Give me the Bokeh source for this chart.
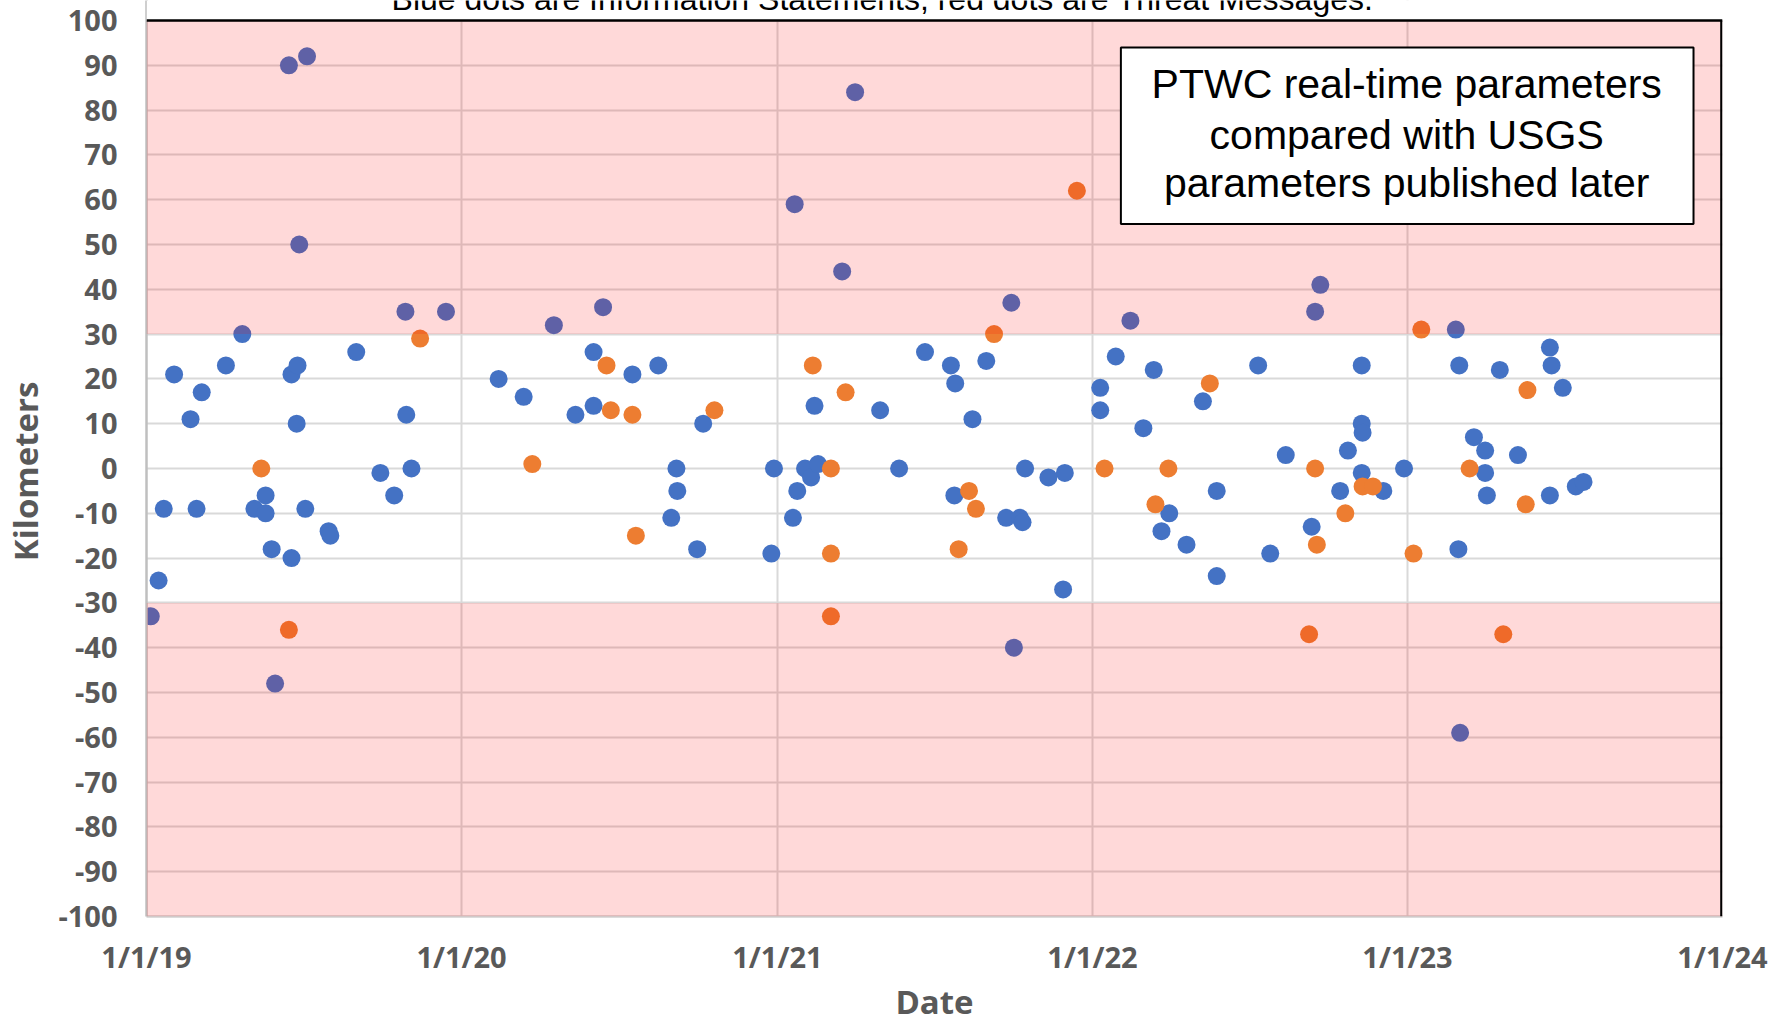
import pandas as pd
from bokeh.plotting import figure
from bokeh.models import (FixedTicker, BoxAnnotation, Span, Label, Range1d,
                          CustomJSTickFormatter, ColumnDataSource)
from bokeh.embed import file_html
from bokeh.resources import INLINE

# ---------------- data ----------------
info_dates = [
    "2019-01-06", "2019-01-15", "2019-01-21", "2019-02-02", "2019-02-21", "2019-02-28",
    "2019-03-06", "2019-04-03", "2019-04-22", "2019-05-06", "2019-05-19", "2019-05-19",
    "2019-05-26", "2019-05-30", "2019-06-15", "2019-06-18", "2019-06-18", "2019-06-24",
    "2019-06-25", "2019-06-27", "2019-07-04", "2019-07-06", "2019-07-31", "2019-08-02",
    "2019-09-01", "2019-09-29", "2019-10-15", "2019-10-28", "2019-10-29", "2019-11-04",
    "2019-12-14",
    "2020-02-13", "2020-03-13", "2020-04-17", "2020-05-12", "2020-06-02", "2020-06-02",
    "2020-06-13", "2020-07-17", "2020-08-16", "2020-08-31", "2020-09-06", "2020-09-07",
    "2020-09-30", "2020-10-07", "2020-12-25", "2020-12-28",
    "2021-01-19", "2021-01-21", "2021-01-24", "2021-02-02", "2021-02-09", "2021-02-13",
    "2021-02-17", "2021-03-17", "2021-04-01", "2021-04-30", "2021-05-22", "2021-06-21",
    "2021-07-21", "2021-07-25", "2021-07-26", "2021-08-15", "2021-08-31", "2021-09-23",
    "2021-09-29", "2021-10-02", "2021-10-09", "2021-10-12", "2021-10-15", "2021-11-11",
    "2021-11-28", "2021-11-30",
    "2022-01-10", "2022-01-10", "2022-01-28", "2022-02-14", "2022-03-01", "2022-03-13",
    "2022-03-22", "2022-03-31", "2022-04-20", "2022-05-09", "2022-05-25", "2022-05-25",
    "2022-07-12", "2022-07-26", "2022-08-13", "2022-09-12", "2022-09-16", "2022-09-22",
    "2022-10-15", "2022-10-24", "2022-11-09", "2022-11-09", "2022-11-10", "2022-11-09",
    "2022-12-04", "2022-12-28",
    "2023-02-26", "2023-03-01", "2023-03-02", "2023-03-03", "2023-03-19", "2023-04-01",
    "2023-04-01", "2023-04-03", "2023-04-18", "2023-05-09", "2023-06-15", "2023-06-15",
    "2023-06-17", "2023-06-30", "2023-07-15", "2023-07-24",
]
info_km = [
    -33, -25, -9, 21, 11, -9,
    17, 23, 30, -9, -6, -10,
    -18, -48, 90, 21, -20, 10,
    23, 50, -9, 92, -14, -15,
    26, -1, -6, 35, 12, 0,
    35,
    20, 16, 32, 12, 26, 14,
    36, 21, 23, -11, 0, -5,
    -18, 10, -19, 0,
    -11, 59, -5, 0, -2, 14,
    1, 44, 84, 13, 0, 26,
    23, -6, 19, 11, 24, -11,
    37, -40, -11, -12, 0, -2,
    -27, -1,
    18, 13, 25, 33, 9, 22,
    -14, -10, -17, 15, -5, -24,
    23, -19, 3, -13, 35, 41,
    -5, 4, 23, 10, 8, -1,
    -5, 0,
    31, -18, 23, -59, 7, 4,
    -1, -6, 22, 3, -6, 27,
    23, 18, -4, -3,
]

threat_dates = [
    "2019-05-14", "2019-06-15", "2019-11-14",
    "2020-03-23", "2020-06-17", "2020-06-22", "2020-07-17", "2020-07-21", "2020-10-20",
    "2021-02-11", "2021-03-04", "2021-03-04", "2021-03-04", "2021-03-21", "2021-07-30",
    "2021-08-11", "2021-08-19", "2021-09-09", "2021-12-14",
    "2022-01-15", "2022-03-15", "2022-03-30", "2022-05-17", "2022-09-09", "2022-09-16",
    "2022-09-18", "2022-10-21", "2022-11-10", "2022-11-22",
    "2023-01-08", "2023-01-17", "2023-03-14", "2023-04-22", "2023-05-18", "2023-05-20",
]
threat_km = [
    0, -36, 29,
    1, 23, 13, 12, -15, 13,
    23, 0, -19, -33, 17, -18,
    -5, -9, 30, 62,
    0, -8, 0, 19, -37, 0,
    -17, -10, -4, -4,
    -19, 31, 0, -37, -8, 17.5,
]

x_tick_dates = ["2019-01-01", "2020-01-01", "2021-01-01", "2022-01-01", "2023-01-01", "2024-01-01"]
x_tick_labels = ["1/1/19", "1/1/20", "1/1/21", "1/1/22", "1/1/23", "1/1/24"]
y_ticks = [-100, -90, -80, -70, -60, -50, -40, -30, -20, -10, 0,
           10, 20, 30, 40, 50, 60, 70, 80, 90, 100]
y_tick_labels = ["-100", "-90", "-80", "-70", "-60", "-50", "-40", "-30", "-20", "-10", "0",
                 "10", "20", "30", "40", "50", "60", "70", "80", "90", "100"]
alert_low, alert_high = -30, 30

title_text = "Blue dots are Information Statements, red dots are Threat Messages."
box_lines = ["PTWC real-time parameters", "compared with USGS", "parameters published later"]
x_title = "Date"
y_title = "Kilometers"


def to_ms(dates):
    return [int(pd.Timestamp(d).value // 10**6) for d in dates]


x_ticks_ms = to_ms(x_tick_dates)
X0, X1 = x_ticks_ms[0], x_ticks_ms[-1]

# ---------------- layout (page pixels) ----------------
W, H = 1788, 1026
FL, FR, FT, FB = 145, 1722, 20, 916      # plot-area edges
Y_TOP = 100 + FT * 200 / (FB - FT)       # frame reaches the canvas top (white strip above 100)


def px_x(px):
    return X0 + (px - FL) / (FR - FL) * (X1 - X0)


def px_y(py):
    return 100 - (py - FT) / (FB - FT) * 200


p = figure(width=W, height=H, output_backend="svg", toolbar_location=None,
           x_range=Range1d(X0, X1), y_range=Range1d(-100, Y_TOP),
           min_border_left=FL, min_border_right=W - FR,
           min_border_top=0, min_border_bottom=H - FB)
p.styles = {"position": "absolute", "left": "0px", "top": "0px"}
p.outline_line_color = None
p.background_fill_color = "white"
p.border_fill_color = "white"

# axes
p.xaxis.ticker = FixedTicker(ticks=x_ticks_ms)
p.xaxis.formatter = CustomJSTickFormatter(
    args=dict(tick_values=x_ticks_ms, tick_texts=x_tick_labels),
    code="const i = tick_values.indexOf(tick); return i >= 0 ? tick_texts[i] : '';")
p.yaxis.ticker = FixedTicker(ticks=y_ticks)
p.yaxis.formatter = CustomJSTickFormatter(
    args=dict(tick_values=y_ticks, tick_texts=y_tick_labels),
    code="const i = tick_values.indexOf(tick); return i >= 0 ? tick_texts[i] : '';")

for ax in (p.xaxis[0], p.yaxis[0]):
    ax.major_tick_line_color = None
    ax.minor_tick_line_color = None
    ax.major_tick_out = 0
    ax.major_tick_in = 0
    ax.major_label_text_font = "Open Sans"
    ax.major_label_text_font_style = "bold"
    ax.major_label_text_font_size = "29px"
    ax.major_label_text_color = "#595959"
    ax.axis_label_text_font = "Open Sans"
    ax.axis_label_text_font_style = "bold"
    ax.axis_label_text_font_size = "33px"
    ax.axis_label_text_color = "#595959"

# trailing spaces re-centre the rotated title on the plot area (frame starts at canvas top)
p.yaxis.axis_label = y_title + "   "
p.yaxis.axis_label_standoff = 7
p.yaxis.axis_line_color = "#bfbfbf"
p.yaxis.axis_line_width = 2.5
p.yaxis.major_label_standoff = 29

p.xaxis.axis_label = x_title
p.xaxis.axis_label_standoff = 0
p.xaxis.axis_line_color = "#d0d0d0"
p.xaxis.axis_line_width = 2.5
p.xaxis.major_label_standoff = 20

p.xgrid.grid_line_color = "#d9d9d9"
p.ygrid.grid_line_color = "#d9d9d9"
p.xgrid.grid_line_width = 2
p.ygrid.grid_line_width = 2

# dots
src_info = ColumnDataSource(dict(x=to_ms(info_dates), y=info_km))
src_threat = ColumnDataSource(dict(x=to_ms(threat_dates), y=threat_km))
p.scatter("x", "y", source=src_info, size=18, fill_color="#4472C4", line_color=None)
p.scatter("x", "y", source=src_threat, size=18, fill_color="#ED7D31", line_color=None)

# translucent red bands beyond +/-30 km
p.add_layout(BoxAnnotation(bottom=alert_high, top=100, fill_color="#ff0000", fill_alpha=0.15,
                           line_alpha=0))
p.add_layout(BoxAnnotation(top=alert_low, bottom=-100, fill_color="#ff0000", fill_alpha=0.15,
                           line_alpha=0))
# white strip above the plot area
p.add_layout(BoxAnnotation(bottom=100, fill_color="white", fill_alpha=1.0, line_alpha=0))

# top / right border lines of the plot area
p.add_layout(Span(location=100, dimension="width", line_color="black", line_width=2.5))
p.add_layout(BoxAnnotation(left=px_x(FR - 2.3), right=X1, bottom=-100, top=100,
                           fill_color="black", fill_alpha=1.0, line_alpha=0))

# annotation box
p.add_layout(BoxAnnotation(left=px_x(1120), right=px_x(1693), top=px_y(47), bottom=px_y(223.5),
                           fill_color="white", fill_alpha=1.0,
                           line_color="black", line_width=2, line_alpha=1.0))
for line, mid in zip(box_lines, [83.5, 134.1, 182.5]):
    p.add_layout(Label(x=px_x(1406), y=px_y(mid), text=line, text_align="center",
                       text_baseline="middle", text_font="Liberation Sans",
                       text_font_size="41px", text_color="black"))

# title (cut off at the top edge, as in the original picture)
p.add_layout(Label(x=px_x(881.5), y=px_y(-1.6), text=title_text, text_align="center",
                   text_baseline="middle", text_font="Liberation Sans",
                   text_font_size="32px", text_color="black"))

open("out.html", "w").write(file_html(p, INLINE))
